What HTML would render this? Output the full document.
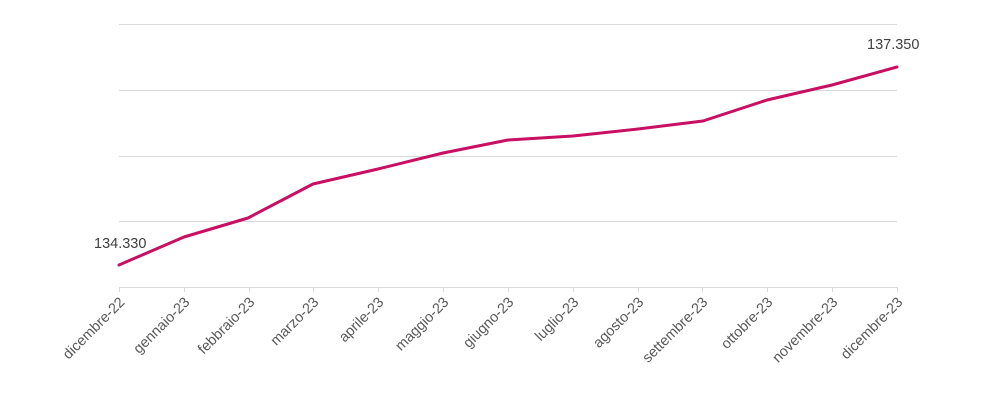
<!DOCTYPE html>
<html><head><style>body{margin:0;background:#fff}</style></head><body>
<svg width="1000" height="400" xmlns="http://www.w3.org/2000/svg" font-family="Liberation Sans, sans-serif">
<g stroke="#d9d9d9" stroke-width="1">
<line x1="119" y1="24.5" x2="897" y2="24.5"/>
<line x1="119" y1="90.5" x2="897" y2="90.5"/>
<line x1="119" y1="156.5" x2="897" y2="156.5"/>
<line x1="119" y1="221.5" x2="897" y2="221.5"/>
<line x1="119" y1="287.5" x2="897" y2="287.5"/>
</g>
<g stroke="#d9d9d9" stroke-width="1" id="ticks"></g>
<polyline fill="none" stroke="#c80f62" stroke-width="3" stroke-linejoin="round" stroke-linecap="round"
points="119,265 184,237 248,218 313,184 378,169 443,153 508,140 573,136 638,129 703,121 767,100 832,85 897,67"/>
<text x="94" y="248" font-size="14.5" fill="#404040">134.330</text>
<text x="867" y="49" font-size="14.5" fill="#404040">137.350</text>
<g font-size="14.5" fill="#595959" text-anchor="end" id="labs"></g>
</svg>
<script>
var n=["dicembre-22","gennaio-23","febbraio-23","marzo-23","aprile-23","maggio-23","giugno-23","luglio-23","agosto-23","settembre-23","ottobre-23","novembre-23","dicembre-23"];
var t=document.getElementById("ticks"),l=document.getElementById("labs"),ns="http://www.w3.org/2000/svg";
n.forEach(function(s,i){var x=Math.round(119+i*64.83)+0.5;
var a=document.createElementNS(ns,"line");a.setAttribute("x1",x);a.setAttribute("x2",x);a.setAttribute("y1",287);a.setAttribute("y2",292);t.appendChild(a);
var e=document.createElementNS(ns,"text");e.setAttribute("transform","translate("+(x+6)+",303) rotate(-45)");e.textContent=s;l.appendChild(e);});
</script>
</body></html>
